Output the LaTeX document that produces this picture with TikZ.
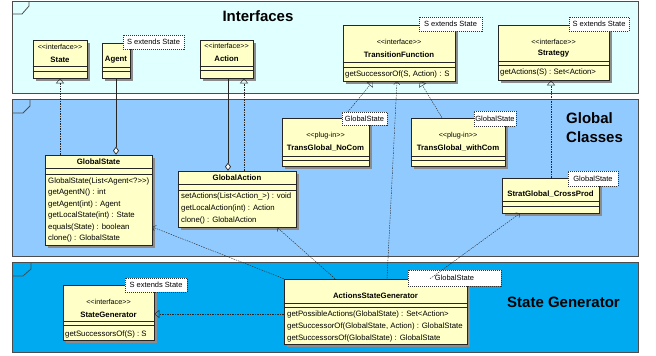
\documentclass[tikz,border=0pt]{standalone}
\usepackage{fontspec}
\setmainfont{Liberation Sans}
\usetikzlibrary{arrows.meta,shadows}

\definecolor{ifcfill}{RGB}{224,255,255}
\definecolor{glbfill}{RGB}{145,202,255}
\definecolor{sgenfill}{RGB}{0,170,240}
\definecolor{clsfill}{RGB}{255,255,200}
\newcommand\dlt{<\kern0pt<}
\newcommand\dgt{>\kern0pt>}

\begin{document}
\begin{tikzpicture}[x=1pt, y=-1pt,
  frame/.style={draw=black!70, line width=0.8pt},
  title/.style={inner sep=0pt, font=\fontsize{15}{19}\selectfont\bfseries},
  cls/.style={draw=black!85, fill=clsfill, line width=0.6pt, inner sep=0pt,
    drop shadow={shadow xshift=2.5pt, shadow yshift=-2.5pt, fill=black!45, opacity=1}},
  note/.style={draw=black!80, fill=white, dash pattern=on 1pt off 1pt, line width=0.6pt,
    inner sep=0pt, font=\fontsize{7.5}{9}\selectfont},
  stereo/.style={inner sep=0pt, font=\fontsize{7.2}{9}\selectfont},
  cname/.style={inner sep=0pt, font=\fontsize{7.8}{9}\selectfont\bfseries},
  op/.style={inner sep=0pt, anchor=west, font=\fontsize{7.8}{9}\selectfont},
  real/.style={black!85, dash pattern=on 1.5pt off 1pt, -{Triangle[open,length=5pt,width=8pt]}},
  dep/.style={black!85, dash pattern=on 1.5pt off 1pt, -{Straight Barb[length=3pt,width=6pt]}},
  comp/.style={black!85, line width=0.7pt, -{Diamond[fill=white,length=8pt,width=6pt]}}]
\useasboundingbox (0,0) rectangle (656,356);

% packages
\draw[frame, fill=ifcfill] (12,1) rectangle (638,93);
\draw[frame] (12,14) -- (22,14) -- (29,6) -- (29,1);
\draw[frame, fill=glbfill] (12,99) rectangle (638,256);
\draw[frame] (12,113) -- (23,113) -- (30,106) -- (30,99);
\draw[frame, fill=sgenfill] (12,262) rectangle (638,352);
\draw[frame] (12,276) -- (23,276) -- (31,269) -- (31,262);
\node[title] (ifc-t) at (258,16) {Interfaces};
\node[title, align=left, anchor=west] (glb-t) at (566,127.5) {Global\\Classes};
\node[title] (sgen-t) at (563.5,302) {State Generator};

% class boxes
\node[cls, minimum width=54, minimum height=38] (state) at (60,59) {};
\node[cls, minimum width=28, minimum height=35] (agent) at (116,60.5) {};
\node[cls, minimum width=53, minimum height=38] (action) at (226.5,59) {};
\node[cls, minimum width=112, minimum height=56] (trans) at (399,53) {};
\node[cls, minimum width=111, minimum height=55] (strat) at (553.5,52.5) {};
\node[cls, minimum width=107, minimum height=90] (gstate) at (98.5,200) {};
\node[cls, minimum width=118, minimum height=56] (gaction) at (237,199) {};
\node[cls, minimum width=87, minimum height=48] (nocom) at (325.5,142) {};
\node[cls, minimum width=94, minimum height=48] (withcom) at (458,142) {};
\node[cls, minimum width=97, minimum height=35] (cross) at (550.5,195.5) {};
\node[cls, minimum width=91, minimum height=55] (stgen) at (108.5,312.5) {};
\node[cls, minimum width=183, minimum height=65] (asg) at (375.5,311.5) {};

% compartments
\foreach \n/\a/\b in {state/66.5/71.5, agent/67/71, action/66/70.5, trans/62/67,
    strat/61/65.5, gstate/168/174, gaction/184/190, nocom/156/160, withcom/156/160,
    cross/201/206, stgen/321/325, asg/303/307}
  \draw[black!85, line width=0.6pt] (\n.west |- 0,\a) -- (\n.east |- 0,\a)
    (\n.west |- 0,\b) -- (\n.east |- 0,\b);

% connectors
\draw[real] (state.south |- gstate.north) -- (state.south);
\draw[comp] (agent.south) -- (agent.south |- gstate.north);
\draw[real] (gaction.north -| 244,0) -- (action.south -| 244,0);
\draw[comp] (action.south -| 228,0) -- (gaction.north -| 228,0);
\draw[real] (nocom.north -| 343,0) -- (trans.south -| 373,0);
\draw[real] (withcom.north -| 442,0) -- (trans.south -| 420,0);
\draw[dep] (asg.north -| 387,0) -- (trans.south -| 397,0);
\draw[real] (cross.north -| 551,0) -- (strat.south -| 551,0);
\draw[real] (asg.west |- 0,314) -- (stgen.east |- 0,314);
\draw[dep] (asg.north west) -- (gstate.east |- 0,227);
\draw[dep] (asg.north -| 335,0) -- (gaction.south -| 277,0);

% class texts
\node[stereo] (state-s) at (60,47) {\dlt interface\dgt};
\node[cname] (state-c) at (60,60) {State};
\node[cname] (agent-c) at (116,60) {Agent};
\node[stereo] (action-s) at (226.5,46) {\dlt interface\dgt};
\node[cname] (action-c) at (226.5,59) {Action};
\node[stereo] (trans-s) at (399,42) {\dlt interface\dgt};
\node[cname] (trans-c) at (399,55) {TransitionFunction};
\node[op] (trans-o) at (345,74) {getSuccessorOf(S, Action) : S};
\node[stereo] (strat-s) at (553.5,42) {\dlt interface\dgt};
\node[cname] (strat-c) at (553.5,54) {Strategy};
\node[op] (strat-o) at (500,72) {getActions(S) : Set<Action>};
\node[cname] (gstate-c) at (98.5,162) {GlobalState};
\node[op] (gstate-o1) at (48,181) {GlobalState(List<Agent<?\dgt)};
\node[op] (gstate-o2) at (48,192.5) {getAgentN() : int};
\node[op] (gstate-o3) at (48,204) {getAgent(int) : Agent};
\node[op] (gstate-o4) at (48,215.5) {getLocalState(int) : State};
\node[op] (gstate-o5) at (48,227) {equals(State) : boolean};
\node[op] (gstate-o6) at (48,238.5) {clone() : GlobalState};
\node[cname] (gaction-c) at (237,177.5) {GlobalAction};
\node[op] (gaction-o1) at (181,196) {setActions(List<Action\_>) : void};
\node[op] (gaction-o2) at (181,208) {getLocalAction(int) : Action};
\node[op] (gaction-o3) at (181,220) {clone() : GlobalAction};
\node[stereo] (nocom-s) at (325.5,135.5) {\dlt plug-in\dgt};
\node[cname] (nocom-c) at (325.5,148) {TransGlobal\_NoCom};
\node[stereo] (withcom-s) at (458,135.5) {\dlt plug-in\dgt};
\node[cname] (withcom-c) at (458,148) {TransGlobal\_withCom};
\node[cname] (cross-c) at (550.5,194) {StratGlobal\_CrossProd};
\node[stereo] (stgen-s) at (108.5,302) {\dlt interface\dgt};
\node[cname] (stgen-c) at (108.5,315) {StateGenerator};
\node[op] (stgen-o) at (65,334.5) {getSuccessorsOf(S) : S};
\node[cname] (asg-c) at (375.5,296) {ActionsStateGenerator};
\node[op] (asg-o1) at (287,314) {getPossibleActions(GlobalState) : Set<Action>};
\node[op] (asg-o2) at (287,326) {getSuccessorOf(GlobalState, Action) : GlobalState};
\node[op] (asg-o3) at (287,338) {getSuccessorsOf(GlobalState) : GlobalState};

% template notes
\node[note, minimum width=61, minimum height=14] (agent-n) at (153.5,42) {S extends State};
\node[note, minimum width=63, minimum height=14] (trans-n) at (450.5,24) {S extends State};
\node[note, minimum width=60, minimum height=14] (strat-n) at (599,24) {S extends State};
\node[note, minimum width=45, minimum height=13] (nocom-n) at (364.5,118.5) {GlobalState};
\node[note, minimum width=42, minimum height=15] (withcom-n) at (495,118.5) {GlobalState};
\node[note, minimum width=50, minimum height=15] (cross-n) at (593,178.5) {GlobalState};
\node[note, minimum width=62, minimum height=14] (stgen-n) at (156,285) {S extends State};
\node[note, minimum width=93, minimum height=16] (asg-n) at (454.5,278) {GlobalState};

\draw[dep] (asg.north -| 430,0) -- (cross.south -| 520,0);
\end{tikzpicture}
\end{document}
